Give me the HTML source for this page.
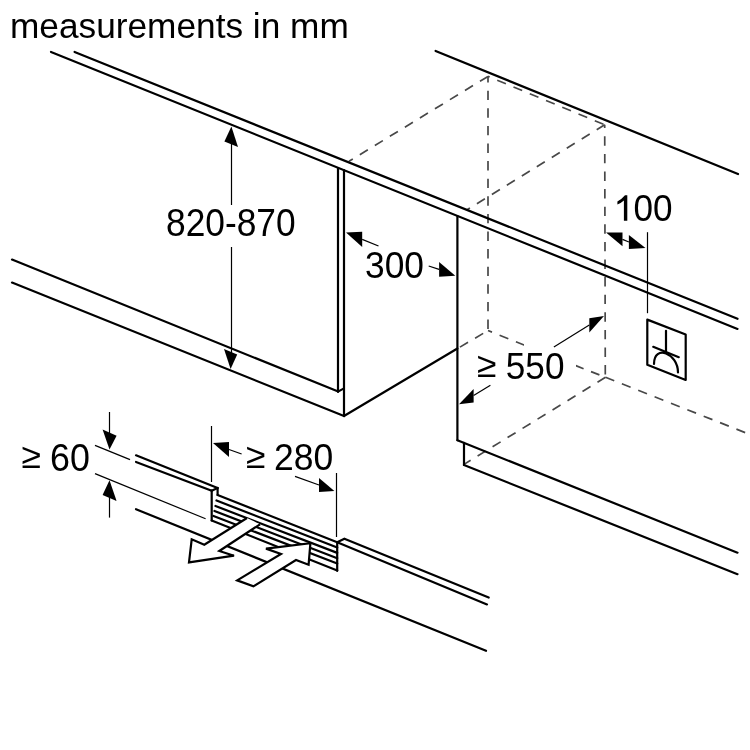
<!DOCTYPE html>
<html><head><meta charset="utf-8">
<style>
html,body{margin:0;padding:0;background:#fff;width:750px;height:750px;overflow:hidden}
svg{display:block;will-change:transform}
text{font-family:"Liberation Sans",sans-serif;font-size:35.5px;fill:#000}
</style></head><body>
<svg width="750" height="750" viewBox="0 0 750 750">
<text transform="translate(10,37.7) scale(0.993,1)">measurements in mm</text>

<!-- dashed box -->
<g stroke="#484848" stroke-width="1.7" fill="none" stroke-dasharray="9.4 8.2">
<line x1="488" y1="76.4" x2="349" y2="161.3"/>
<line x1="488" y1="76.4" x2="604.7" y2="124.8" stroke-dashoffset="7.6"/>
<line x1="488" y1="76.4" x2="488" y2="330.5" stroke-dashoffset="3.3"/>
<line x1="604.7" y1="124.8" x2="467" y2="209.8"/>
<line x1="604.7" y1="124.8" x2="605.3" y2="377.3" stroke-dashoffset="6.1"/>
<line x1="488" y1="330.5" x2="530" y2="347.4" stroke-dashoffset="5.1"/>
<line x1="575.2" y1="365.4" x2="605.5" y2="377.3" stroke-dasharray="9 8"/>
<line x1="605.5" y1="377.3" x2="752" y2="435.3"/>
<line x1="488" y1="330.5" x2="458.5" y2="348" stroke-dashoffset="12"/>
<line x1="605.5" y1="377.3" x2="464" y2="464.4"/>
</g>
<rect x="524" y="343.5" width="52" height="41" fill="#fff"/>

<g stroke="#000" stroke-width="2.2" fill="none" stroke-linecap="round" stroke-linejoin="round">
<line x1="51" y1="52" x2="737.5" y2="328.9"/>
<line x1="74.6" y1="52" x2="737.5" y2="318.8"/>
<line x1="435.6" y1="51" x2="738" y2="174"/>
<line x1="12" y1="259.6" x2="338.2" y2="391.6"/>
<line x1="12" y1="282.6" x2="344" y2="416"/>
<line x1="338" y1="168" x2="338" y2="391.6"/>
<line x1="344" y1="170.2" x2="344" y2="416"/>
<line x1="338" y1="391.6" x2="343.5" y2="388.6"/>
<line x1="344" y1="416" x2="457.4" y2="348.5"/>
<line x1="457.4" y1="216" x2="457.4" y2="440.2"/>
<line x1="457.4" y1="440.2" x2="737.5" y2="552.7"/>
<line x1="464" y1="442.8" x2="464" y2="465"/>
<line x1="464" y1="465" x2="737.5" y2="574.2"/>
<!-- plinth left -->
<line x1="136" y1="455.3" x2="217.6" y2="488"/>
<line x1="136" y1="462" x2="211.7" y2="490.7"/>
<line x1="211.7" y1="490.7" x2="217.6" y2="488"/>
<line x1="211.7" y1="490.7" x2="211.7" y2="520.5"/>
<line x1="217.6" y1="488" x2="217.6" y2="495"/>
<line x1="136" y1="509.2" x2="486" y2="650.8"/>
<!-- plinth right -->
<line x1="344.4" y1="538.8" x2="488.7" y2="597.6"/>
<line x1="337.2" y1="542.3" x2="487" y2="604.4"/>
<line x1="337.2" y1="542.3" x2="344.4" y2="538.8"/>
<line x1="337.2" y1="542.3" x2="337.2" y2="570.8"/>
<!-- grille -->
<line x1="217.6" y1="495" x2="337.2" y2="542.3"/>
<line x1="216.5" y1="500.5" x2="337.2" y2="547.6"/>
<line x1="215.5" y1="506" x2="337.2" y2="552.9"/>
<line x1="214.5" y1="511" x2="337.2" y2="558.2"/>
<line x1="213.5" y1="516" x2="337.2" y2="563.5"/>
<line x1="211.7" y1="520.5" x2="337.2" y2="570.5"/>
<!-- socket -->
<polygon points="647.3,319.6 685.7,334.5 685.7,380 647.3,364.7"/>
<line x1="666" y1="330.8" x2="666" y2="351.6"/>
<line x1="653.2" y1="346.8" x2="678.8" y2="357.2"/>
<path d="M654,364 C654,344 678,353 678,372.4"/>
</g>

<!-- vent arrows -->
<g stroke="#000" stroke-width="2.2" stroke-linejoin="miter">
<polygon points="247,518 204.3,544.7 191.7,539.3 189,562.4 234,555.7 219.3,551 260,524.3" fill="#fff" stroke="none"/>
<polyline points="260,524.3 219.3,551 234,555.7 189,562.4 191.7,539.3 204.3,544.7 247,518" fill="none"/>
<polygon points="237.2,580.4 281,554 266,548.6 310.4,543.2 308.6,564.8 296,560 253.4,586.4" fill="#fff"/>
</g>

<!-- dimension lines -->
<g stroke="#000" stroke-width="1.2" fill="none">
<line x1="231.5" y1="135" x2="231.5" y2="205"/>
<line x1="231.5" y1="247" x2="231.5" y2="360"/>
<line x1="362.2" y1="239.4" x2="378.5" y2="246"/>
<line x1="428.7" y1="266" x2="439.1" y2="269.4"/>
<line x1="622.5" y1="239.4" x2="628.9" y2="242"/>
<line x1="647.5" y1="232.2" x2="647.5" y2="313.2"/>
<line x1="553.9" y1="347" x2="589.3" y2="325"/>
<line x1="473.6" y1="395.5" x2="490.4" y2="385.2"/>
<line x1="109.5" y1="412" x2="109.5" y2="440"/>
<line x1="109.5" y1="490" x2="109.5" y2="517.6"/>
<line x1="95" y1="445.4" x2="130" y2="459.6"/>
<line x1="95" y1="473.6" x2="205.6" y2="518.8"/>
<line x1="211.5" y1="426" x2="211.5" y2="482"/>
<line x1="229" y1="449.5" x2="241.6" y2="454"/>
<line x1="336.5" y1="473" x2="336.5" y2="537"/>
<line x1="295" y1="476.4" x2="319" y2="485"/>
</g>
<g fill="#000">
<polygon points="231.4,126.6 224.4,141.6 238,147"/>
<polygon points="230.6,369 224,349 237.2,354.6"/>
<polygon points="346,232.5 362.2,231.8 362.2,246.9"/>
<polygon points="455.3,275.8 439.1,262 439.1,276.8"/>
<polygon points="606,232.6 622.5,232.4 622.5,246.3"/>
<polygon points="645.5,247.9 628.9,235 628.9,249"/>
<polygon points="604,316 589.3,318.3 589.3,332.5"/>
<polygon points="459,404.3 473.6,389 473.6,402.6"/>
<polygon points="109.5,449.5 102.6,429.4 116.6,435.8"/>
<polygon points="109.5,480.2 102.6,495 116.6,501"/>
<polygon points="213,443 229,442 229,457"/>
<polygon points="334.4,491 319,478 319,492"/>
</g>

<text transform="translate(166,235.8) scale(0.995,1.07)">820-870</text>
<text transform="translate(365,277.8) scale(0.995,1.045)">300</text>
<path d="M627.3,195.3 L627.3,220.8 L623.9,220.8 L623.9,200.4 Q621,203 617.4,204.6 L617.4,201.4 Q622,199 625,195.3 Z" fill="#000"/>
<text transform="translate(633.5,220.9) scale(0.99,1.04)">00</text>
<text transform="translate(476.9,377)">≥</text>
<text transform="translate(505.8,379.2) scale(0.99,1.03)">550</text>
<text transform="translate(21.5,467.5)">≥</text>
<text transform="translate(50,470.5) scale(1.01,1.08)">60</text>
<text transform="translate(246,467.7)">≥</text>
<text transform="translate(274,469.7) scale(1,1.058)">280</text>
</svg>
</body></html>
